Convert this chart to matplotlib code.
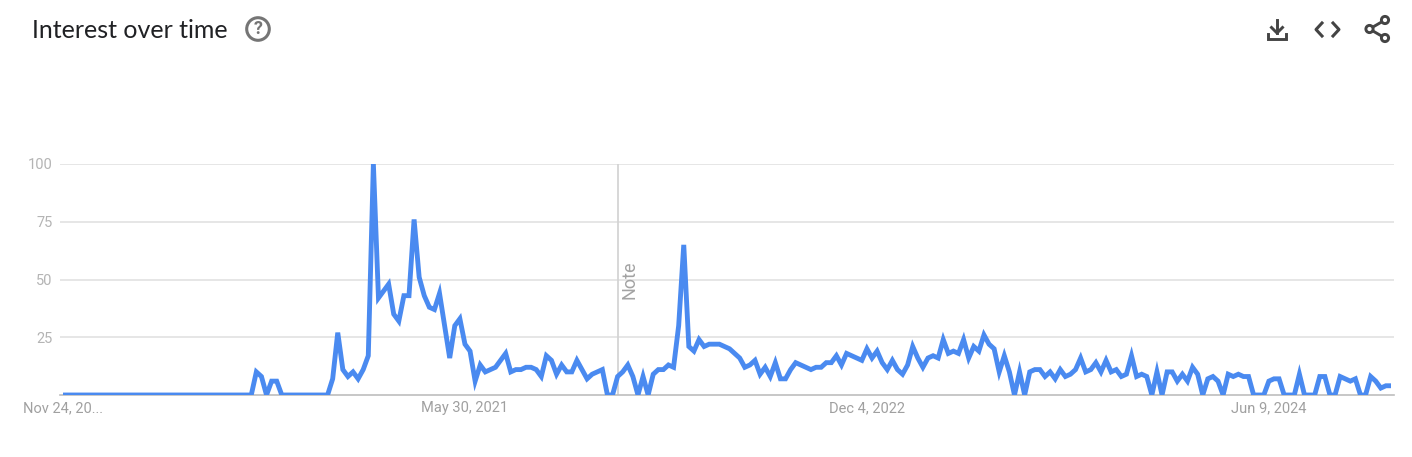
import pandas as pd
import matplotlib
matplotlib.use('Agg')
import matplotlib.pyplot as plt
from matplotlib.patches import Circle

W, H = 1412, 457

# weekly values
values = [
    0, 0, 0, 0, 0, 0, 0, 0, 0, 0, 0, 0, 0, 0, 0, 0, 0, 0, 0, 0,
    0, 0, 0, 0, 0, 0, 0, 0, 0, 0, 0, 0, 0, 0, 0, 0, 0, 0, 10, 8,
    0, 6, 6, 0, 0, 0, 0, 0, 0, 0, 0, 0, 0, 7, 27, 11, 8, 10, 7, 11,
    17, 100, 42, 45, 48, 35, 32, 43, 43, 76, 51, 43, 38, 37, 44, 30, 16, 30, 33, 22,
    19, 6, 13, 10, 11, 12, 15, 18, 10, 11, 11, 12, 12, 11, 8, 17, 15, 9, 13, 10,
    10, 15, 11, 7, 9, 10, 11, 0, 0, 8, 10, 13, 8, 0, 8, 0, 9, 11, 11, 13,
    12, 30, 65, 21, 19, 24, 21, 22, 22, 22, 21, 20, 18, 16, 12, 13, 15, 9, 12, 8,
    14, 7, 7, 11, 14, 13, 12, 11, 12, 12, 14, 14, 17, 13, 18, 17, 16, 15, 20, 16,
    19, 14, 11, 15, 11, 9, 13, 21, 16, 12, 16, 17, 16, 24, 18, 19, 18, 24, 16, 21,
    19, 26, 22, 20, 10, 17, 10, 0, 10, 0, 10, 11, 11, 8, 10, 7, 11, 8, 9, 11,
    16, 10, 11, 14, 10, 15, 10, 11, 8, 9, 17, 8, 9, 8, 0, 10, 0, 10, 10, 6,
    9, 6, 12, 9, 0, 7, 8, 6, 0, 9, 8, 9, 8, 8, 0, 0, 0, 6, 7, 7,
    0, 0, 0, 9, 0, 0, 0, 8, 8, 0, 0, 8, 7, 6, 7, 0, 0, 8, 6, 3,
    4, 4,
]
dates = pd.date_range('2019-11-24', periods=len(values), freq='7D')
y_ticks = [25, 50, 75, 100]
x_ticks = ['2019-11-24', '2021-05-30', '2022-12-04', '2024-06-09']
x_labels = ['Nov 24, 20...', 'May 30, 2021', 'Dec 4, 2022', 'Jun 9, 2024']
note_date = '2021-12-26'

BLUE = '#4a8af0'
GRID = '#e2e2e2'
TICK = '#b4b4b4'
ICON = '#444444'

plt.rcParams['font.family'] = ['Roboto', 'DejaVu Sans']
fig = plt.figure(figsize=(W / 100, H / 100), dpi=100, facecolor='white')

# plot area: x 60..1394, y 164..395 in pixels
ax = fig.add_axes([60 / W, 1 - 395 / H, 1334 / W, 231 / H])
week = pd.Timedelta(days=7)
ax.set_xlim(dates[0] - week * 3 / 5.088, dates[-1] + week * 3 / 5.088)
ax.set_ylim(0, 100)
for s in ['top', 'left', 'right']:
    ax.spines[s].set_visible(False)
ax.spines['bottom'].set_color('#bdbdbd')
ax.spines['bottom'].set_linewidth(1.2)

ax.set_yticks(y_ticks)
ax.set_yticklabels([str(v) for v in y_ticks], fontsize=10.5, color=TICK)
ax.set_xticks(pd.to_datetime(x_ticks))
ax.set_xticklabels(x_labels, fontsize=10.5, color='#a0a0a0')
ax.tick_params(axis='both', length=0)
ax.tick_params(axis='y', pad=5.5)
ax.tick_params(axis='x', pad=4.5)
ax.grid(axis='y', color=GRID, linewidth=1.2)
ax.set_axisbelow(True)

ax.axvline(pd.Timestamp(note_date), color='#d4d4d4', linewidth=1.3, zorder=1)
ax.annotate('Note', (pd.Timestamp(note_date), 50), xytext=(8.5, 0), textcoords='offset points',
            rotation=90, ha='center', va='center', fontsize=13, color='#a3a3a3')
ax.plot(dates, values, color=BLUE, linewidth=3.5, solid_joinstyle='miter',
        solid_capstyle='butt', zorder=3)

# header drawn in pixel coordinates
top = fig.add_axes([0, 0, 1, 1], facecolor='none')
top.set_xlim(0, W)
top.set_ylim(H, 0)
top.axis('off')
top.text(32, 31, 'Interest over time', fontsize=18, color='#202124', family='Lato',
         va='center', ha='left')
top.add_patch(Circle((258, 29), 11.3, fill=False, edgecolor='#757575', linewidth=2.2))
top.text(258, 29.5, '?', fontsize=13, fontweight='bold', color='#757575', ha='center', va='center')

# download icon
top.plot([1277, 1277], [20, 33], color=ICON, linewidth=2.1)
top.plot([1271.5, 1277, 1282.5], [27.5, 33, 27.5], color=ICON, linewidth=2.1)
top.plot([1268, 1268, 1286, 1286], [34, 38.5, 38.5, 34], color=ICON, linewidth=2.1, solid_joinstyle='miter')
# embed icon
top.plot([1322, 1316, 1322], [23, 29.5, 36], color=ICON, linewidth=2.2)
top.plot([1333, 1339, 1333], [23, 29.5, 36], color=ICON, linewidth=2.2)
# share icon
top.plot([1385, 1369.5, 1385], [20, 29, 38], color=ICON, linewidth=2.1)
for cx, cy in [(1385, 20), (1369.5, 29), (1385, 38)]:
    top.add_patch(Circle((cx, cy), 3.6, facecolor='white', edgecolor=ICON, linewidth=2.1, zorder=3))

fig.savefig('out.png', dpi=100)
